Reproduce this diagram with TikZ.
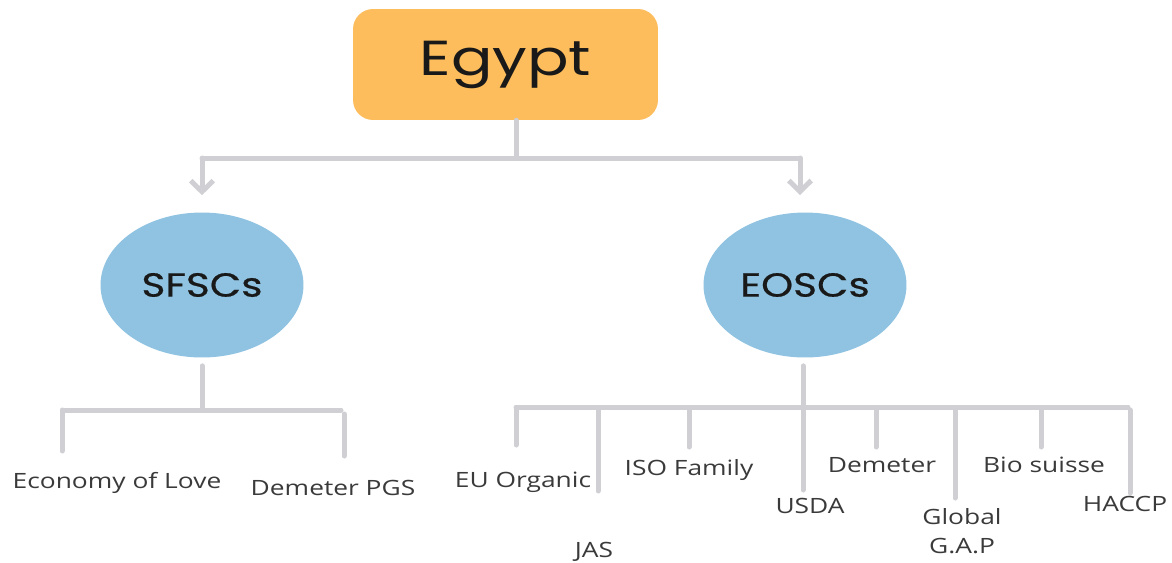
\documentclass[tikz,border=0pt]{standalone}
\usepackage{fontspec}
\usetikzlibrary{arrows.meta,shapes.geometric}
\newfontfamily\titlefont[FakeStretch=1.25]{Poppins}
\newfontfamily\bubblefont[FakeStretch=1.22,FakeBold=0.6]{Poppins}
\newfontfamily\leaffont[FakeStretch=1.25]{Open Sans}
\definecolor{boxorange}{HTML}{FDBD5C}
\definecolor{bubbleblue}{HTML}{8FC3E1}
\definecolor{linegray}{HTML}{CFCFD4}
\definecolor{leafgray}{HTML}{3A3A3A}
\tikzset{conn/.style={linegray, line width=0.1cm, line cap=round},
         arr/.style={-{Straight Barb[length=0.22cm,width=0.45cm,line width=0.1cm]}},
         rootbox/.style={fill=boxorange, rounded corners=0.4cm, minimum width=6.1cm, minimum height=2.22cm, font=\titlefont\fontsize{28}{30}\selectfont, text=black!90},
         bubble/.style={ellipse, fill=bubbleblue, inner sep=0pt, minimum width=4.06cm, minimum height=2.9cm, font=\bubblefont\fontsize{19}{21}\selectfont, text=black!90},
         leaf/.style={anchor=base, inner sep=0pt, align=center, font=\leaffont\fontsize{12}{16}\selectfont, text=leafgray}}

\begin{document}
\begin{tikzpicture}[x=0.02cm, y=-0.02cm]
   \useasboundingbox (0,0) rectangle (1172,562);
   % top level
   \node[rootbox] (egypt) at (505.5,64.5) {Egypt};
   \node[bubble] (sfsc) at (202,285) {SFSCs};
   \node[bubble] (eosc) at (805,285) {EOSCs};
   \coordinate (hub) at (516,158);
   \draw[conn] (egypt.south -| hub) -- (hub);
   \draw[conn] (202,158) -- (800,158);
   \draw[conn,arr,shorten >=0.34cm] (sfsc |- hub) -- (sfsc.north);
   \draw[conn,arr,shorten >=0.34cm] (800,158) -- (800,212);

   % short supply chains
   \coordinate (sbar) at (203,410);
   \draw[conn,shorten <=0.16cm] (sfsc.south) -- (sfsc |- sbar);
   \draw[conn] (63,410) -- (341,410);
   \node[leaf] (love) at (117,488) {Economy of Love};
   \node[leaf] (pgs) at (333,495) {Demeter PGS};
   \draw[conn] (62,410) -- (62,451);
   \draw[conn] (344,414) -- (344,456);

   % export oriented supply chains
   \coordinate (ebar) at (803,407);
   \coordinate (usdaend) at (803,490);
   \draw[conn,shorten <=0.16cm] (eosc.south -| ebar) -- (usdaend);
   \node[leaf] (usda) at (810,513) {USDA};
   \draw[conn] (516,407) -- (1128,407);
   \foreach \dx/\dy/\lx/\ly/\name/\txt in {516/445/523/487/euorg/EU Organic,
       598/491/594/557/jas/JAS, 689/447/689/475/iso/ISO Family,
       876/447/882/472/dem/Demeter, 955/498/962/553/gap/{Global\\G.A.P},
       1041/447/1044/472/bio/Bio suisse, 1130/493/1125/511/haccp/HACCP}
   {
     \coordinate (\name end) at (\dx,\dy);
     \draw[conn] (\dx,410) -- (\name end);
     \node[leaf] (\name) at (\lx,\ly) {\txt};
   }
\end{tikzpicture}
\end{document}
